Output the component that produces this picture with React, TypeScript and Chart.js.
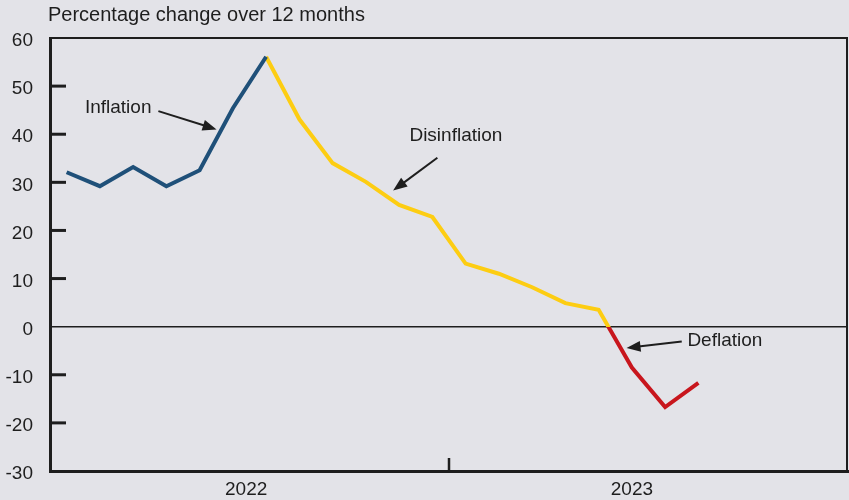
import React, { useEffect, useRef } from "react";
import { Chart, registerables } from "chart.js";

Chart.register(...registerables);

// Monthly observations, Jan 2022 – Aug 2023
const MONTHS = [
  "Jan 2022", "Feb 2022", "Mar 2022", "Apr 2022", "May 2022", "Jun 2022",
  "Jul 2022", "Aug 2022", "Sep 2022", "Oct 2022", "Nov 2022", "Dec 2022",
  "Jan 2023", "Feb 2023", "Mar 2023", "Apr 2023", "May 2023", "Jun 2023",
  "Jul 2023", "Aug 2023",
];

// Percentage change over 12 months
const RATES = [
  32.1, 29.2, 33.2, 29.2, 32.5, 45.4, 56.1, 43.1, 34.0, 30.1,
  25.3, 22.8, 13.1, 11.0, 8.2, 4.9, 3.5, -8.5, -16.7, -11.7,
];

// Month at which price growth peaks
const PEAK_INDEX = 6;

// Year labels on the time axis and where they sit (in month units)
const YEARS = ["2022", "2023"];
const YEAR_LABEL_AT = [5.4, 17];
const YEAR_BOUNDARY = 11.5;

const Y_MIN = -30;
const Y_MAX = 60;
const Y_STEP = 10;

const TITLE = "Percentage change over 12 months";

// Annotation labels with arrows, in data units (month index, percent)
const NOTES = [
  { text: "Inflation", at: [0.55, 45.4], from: [2.76, 44.8], to: [4.51, 41.0] },
  { text: "Disinflation", at: [10.31, 39.6], from: [11.15, 35.1], to: [9.82, 28.3] },
  { text: "Deflation", at: [18.67, -2.9], from: [18.5, -3.06], to: [16.84, -4.44] },
];

const BLUE = "#1f5079";
const YELLOW = "#fdcd12";
const RED = "#c8161d";
const INK = "#1e1e1e";
const BG = "#e3e3e8";
const FONT = "'Liberation Sans', Arial, Helvetica, sans-serif";
const FONT_SIZE = 19;

const decorations = {
  id: "decorations",
  afterDatasetsDraw(chart: any) {
    const { ctx, chartArea, scales } = chart;
    const xs = scales.x;
    const ys = scales.y;
    ctx.save();

    // top and right frame
    ctx.strokeStyle = INK;
    ctx.lineWidth = 2;
    ctx.beginPath();
    ctx.moveTo(chartArea.left, chartArea.top);
    ctx.lineTo(chartArea.right - 1, chartArea.top);
    ctx.lineTo(chartArea.right - 1, chartArea.bottom);
    ctx.stroke();

    // inward tick marks on the value axis
    ctx.lineWidth = 3;
    for (let v = Y_MIN + Y_STEP; v < Y_MAX; v += Y_STEP) {
      if (v === 0) continue;
      const y = ys.getPixelForValue(v);
      ctx.beginPath();
      ctx.moveTo(chartArea.left, y);
      ctx.lineTo(chartArea.left + 16, y);
      ctx.stroke();
    }

    // year boundary tick on the time axis
    const bx = xs.getPixelForValue(YEAR_BOUNDARY);
    ctx.lineWidth = 2.5;
    ctx.beginPath();
    ctx.moveTo(bx, chartArea.bottom);
    ctx.lineTo(bx, chartArea.bottom - 13);
    ctx.stroke();

    // title
    ctx.fillStyle = INK;
    ctx.font = `20px ${FONT}`;
    ctx.textAlign = "left";
    ctx.textBaseline = "middle";
    ctx.fillText(TITLE, 48, 15);

    // annotations
    ctx.font = `${FONT_SIZE}px ${FONT}`;
    for (const n of NOTES) {
      const tx = xs.getPixelForValue(n.at[0]);
      const ty = ys.getPixelForValue(n.at[1]);
      ctx.fillText(n.text, tx, ty);

      const x0 = xs.getPixelForValue(n.from[0]);
      const y0 = ys.getPixelForValue(n.from[1]);
      const x1 = xs.getPixelForValue(n.to[0]);
      const y1 = ys.getPixelForValue(n.to[1]);
      const ang = Math.atan2(y1 - y0, x1 - x0);
      const head = 14;
      const half = 5.5;
      const bxh = x1 - head * Math.cos(ang);
      const byh = y1 - head * Math.sin(ang);
      ctx.strokeStyle = INK;
      ctx.lineWidth = 2;
      ctx.beginPath();
      ctx.moveTo(x0, y0);
      ctx.lineTo(bxh + 2 * Math.cos(ang), byh + 2 * Math.sin(ang));
      ctx.stroke();
      ctx.beginPath();
      ctx.moveTo(x1, y1);
      ctx.lineTo(bxh + half * Math.sin(ang), byh - half * Math.cos(ang));
      ctx.lineTo(bxh - half * Math.sin(ang), byh + half * Math.cos(ang));
      ctx.closePath();
      ctx.fill();
    }
    ctx.restore();
  },
};

const background = {
  id: "background",
  beforeDraw(chart: any) {
    const { ctx, width, height } = chart;
    ctx.save();
    ctx.fillStyle = BG;
    ctx.fillRect(0, 0, width, height);
    ctx.restore();
  },
};

export default function App() {
  const canvasRef = useRef<HTMLCanvasElement | null>(null);

  useEffect(() => {
    const canvas = canvasRef.current;
    if (!canvas) return;

    const rising = MONTHS.map((_, i) => ({ x: i, y: RATES[i] })).filter((_, i) => i <= PEAK_INDEX);
    const falling = MONTHS.map((_, i) => ({ x: i, y: RATES[i] })).filter((_, i) => i >= PEAK_INDEX);

    // yellow above zero, red below zero
    const fallingColor = (context: any) => {
      const { chart } = context;
      const { ctx, chartArea, scales } = chart;
      if (!chartArea || !scales.y) return YELLOW;
      const y0 = scales.y.getPixelForValue(0);
      const g = ctx.createLinearGradient(0, chartArea.top, 0, chartArea.bottom);
      const stop = Math.min(1, Math.max(0, (y0 - chartArea.top) / (chartArea.bottom - chartArea.top)));
      g.addColorStop(0, YELLOW);
      g.addColorStop(stop, YELLOW);
      g.addColorStop(stop, RED);
      g.addColorStop(1, RED);
      return g;
    };

    const chart = new Chart(canvas, {
      type: "line",
      data: {
        datasets: [
          {
            label: "Inflation",
            data: rising,
            borderColor: BLUE,
            borderWidth: 4,
            pointRadius: 0,
            tension: 0,
            borderJoinStyle: "miter",
          },
          {
            label: "Disinflation / Deflation",
            data: falling,
            borderColor: fallingColor,
            borderWidth: 4,
            pointRadius: 0,
            tension: 0,
            borderJoinStyle: "miter",
          },
        ],
      },
      options: {
        animation: false,
        responsive: false,
        maintainAspectRatio: false,
        layout: { padding: { top: 38, right: 1, left: 0, bottom: 0 } },
        plugins: {
          legend: { display: false },
          tooltip: { enabled: false },
          title: { display: false },
        },
        scales: {
          x: {
            type: "linear",
            min: -0.5,
            max: 23.5,
            afterBuildTicks: (scale: any) => {
              scale.ticks = YEAR_LABEL_AT.map((v) => ({ value: v }));
            },
            afterFit: (scale: any) => {
              scale.height = 29;
            },
            ticks: {
              autoSkip: false,
              maxRotation: 0,
              padding: 7,
              color: INK,
              font: { family: FONT, size: FONT_SIZE },
              callback: (v: any) => {
                const i = YEAR_LABEL_AT.indexOf(Number(v));
                return i >= 0 ? YEARS[i] : "";
              },
            },
            grid: { display: false, drawTicks: false },
            border: { display: true, width: 3, color: INK },
          },
          y: {
            type: "linear",
            min: Y_MIN,
            max: Y_MAX,
            afterFit: (scale: any) => {
              scale.width = 50;
            },
            ticks: {
              stepSize: Y_STEP,
              padding: 17,
              labelOffset: 3,
              color: INK,
              font: { family: FONT, size: FONT_SIZE },
            },
            grid: {
              drawTicks: false,
              color: (c: any) => (c.tick && c.tick.value === 0 ? INK : "rgba(0,0,0,0)"),
              lineWidth: 1.5,
            },
            border: { display: true, width: 3, color: INK },
          },
        },
      },
      plugins: [background, decorations],
    });

    return () => chart.destroy();
  }, []);

  return (
    <div style={{ position: "absolute", left: 0, top: 0, width: 849, height: 500, background: BG }}>
      <canvas ref={canvasRef} width={849} height={500} style={{ width: 849, height: 500, display: "block" }} />
    </div>
  );
}
